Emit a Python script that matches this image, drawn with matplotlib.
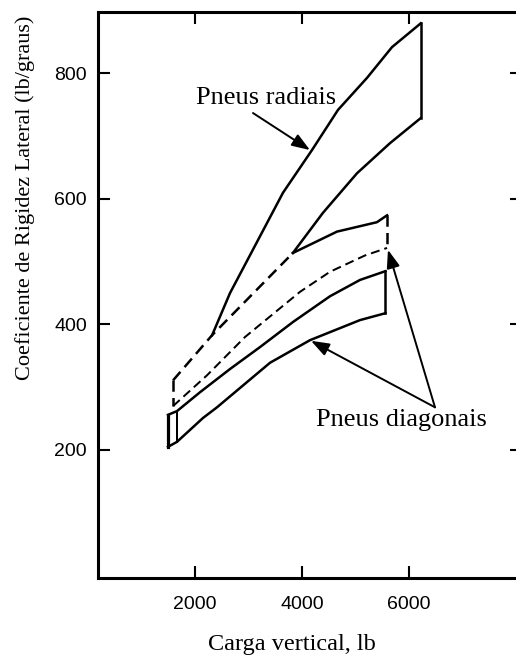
import matplotlib
matplotlib.use("Agg")
import matplotlib.pyplot as plt

# radial tyres band (upper edge, lower edge), load in lb
rad_up_x = [2320, 2654, 3645, 4187, 4673, 5215, 5682, 6220]
rad_up_y = [383, 450, 610, 678, 742, 793, 842, 880]
rad_lo_x = [3830, 4392, 5028, 5645, 6220]
rad_lo_y = [514, 578, 641, 689, 729]

# bias tyres, upper (dashed) band
dup_top_x = [1590, 2320, 3000, 3830, 4654, 5400, 5590]
dup_top_y = [311, 383, 442, 514, 548, 563, 574]
dup_bot_x = [1590, 2224, 2934, 3962, 4523, 5177, 5590]
dup_bot_y = [270, 319, 380, 452, 484, 510, 522]

# bias tyres, lower (solid) band
dlo_top_x = [1495, 1664, 2093, 2654, 3215, 3832, 4523, 5084, 5560]
dlo_top_y = [256, 262, 292, 329, 364, 404, 445, 471, 485]
dlo_bot_x = [1495, 1664, 2149, 2411, 3402, 4149, 5084, 5560]
dlo_bot_y = [205, 213, 251, 268, 339, 375, 407, 418]

xticks = [2000, 4000, 6000]
yticks = [200, 400, 600, 800]

serif = "Liberation Serif"
sans = "Liberation Sans"

fig = plt.figure(figsize=(5.16, 6.61), dpi=100)
ax = fig.add_axes([98 / 516, 83 / 661, 424 / 516, 566 / 661])

lw = 1.8
dash = (0, (4.5, 2.5))

# radial band
ax.plot(rad_up_x, rad_up_y, color="k", lw=lw)
ax.plot(rad_lo_x, rad_lo_y, color="k", lw=lw)
ax.plot([rad_up_x[-1], rad_lo_x[-1]], [rad_up_y[-1], rad_lo_y[-1]], color="k", lw=lw)

# upper bias band: dashed up to where it meets the radial edge, solid after
ax.plot(dup_top_x[:4], dup_top_y[:4], color="k", lw=lw, ls=dash)
ax.plot(dup_top_x[3:], dup_top_y[3:], color="k", lw=lw)
ax.plot(dup_bot_x, dup_bot_y, color="k", lw=lw * 0.8, ls=dash)
ax.plot([dup_top_x[0], dup_bot_x[0]], [dup_top_y[0], dup_bot_y[0]], color="k", lw=lw, ls=dash)
ax.plot([dup_top_x[-1], dup_bot_x[-1]], [dup_top_y[-1], dup_bot_y[-1]], color="k", lw=lw, ls=dash)

# lower bias band
ax.plot(dlo_top_x, dlo_top_y, color="k", lw=lw)
ax.plot(dlo_bot_x, dlo_bot_y, color="k", lw=lw)
ax.plot([dlo_top_x[0], dlo_bot_x[0]], [dlo_top_y[0], dlo_bot_y[0]], color="k", lw=lw + 0.5)
ax.plot([dlo_top_x[1], dlo_bot_x[1]], [dlo_top_y[1], dlo_bot_y[1]], color="k", lw=lw * 0.8)
ax.plot([dlo_top_x[-1], dlo_bot_x[-1]], [dlo_top_y[-1], dlo_bot_y[-1]], color="k", lw=lw)

# annotations
arrow = dict(arrowstyle="-|>,head_length=0.55,head_width=0.2", color="k",
             lw=1.4, shrinkA=0, shrinkB=0, mutation_scale=20)
ax.text(3327, 761, "Pneus radiais", family=serif, fontsize=19, ha="center", va="center")
ax.annotate("", xy=(4149, 678), xytext=(3084, 737), arrowprops=arrow)

ax.text(5850, 248, "Pneus diagonais", family=serif, fontsize=19, ha="center", va="center")
ax.annotate("", xy=(4168, 374), xytext=(6486, 268), arrowprops=arrow)
ax.annotate("", xy=(5607, 519), xytext=(6486, 268), arrowprops=arrow)

ax.set_xlim(187, 8112)
ax.set_ylim(-4, 898)
ax.set_xticks(xticks)
ax.set_yticks(yticks)
ax.tick_params(direction="in", length=8.5, width=1.5, top=True, right=True,
               labelsize=14)
ax.tick_params(axis="x", pad=13)
ax.tick_params(axis="y", pad=8)
for lab in ax.get_xticklabels() + ax.get_yticklabels():
    lab.set_family(sans)
for s in ax.spines.values():
    s.set_linewidth(2.2)

fig.text(292 / 516, 1 - 650 / 661, "Carga vertical, lb", family=serif, fontsize=17.5,
         ha="center", va="baseline")
fig.text(25 / 516, 1 - 198 / 661, "Coeficiente de Rigidez Lateral (lb/graus)",
         family=serif, fontsize=16, rotation=90, ha="center", va="center")

fig.savefig("out.png", dpi=100)
